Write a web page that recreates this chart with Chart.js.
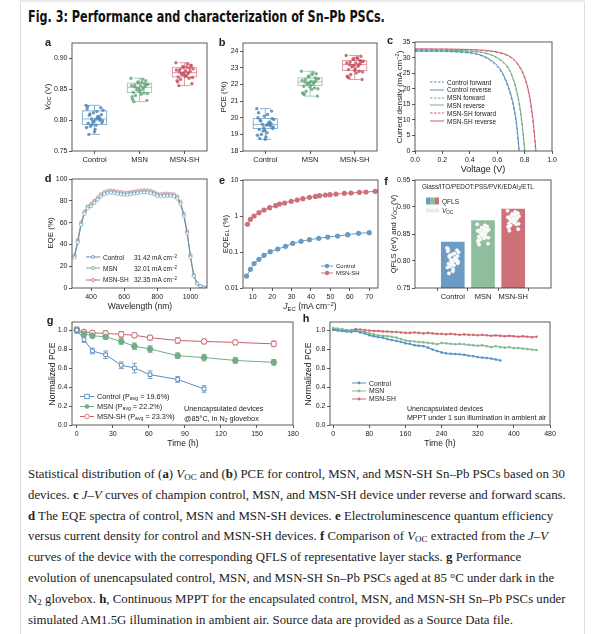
<!DOCTYPE html>
<html>
<head>
<meta charset="utf-8">
<script src="https://cdn.jsdelivr.net/npm/chart.js@4.4.1/dist/chart.umd.min.js"></script>
<style>
  body { margin: 0; background: #fff; }
  #page { position: relative; width: 600px; height: 634px; overflow: hidden; background: #fff;
          font-family: "Liberation Sans", Arial, sans-serif; color: #222; }
  .side { position: absolute; top: 0; bottom: 0; width: 1px; background: #dcdcdc; }
  .pl { position: absolute; }
  .lab { position: absolute; font-weight: bold; font-size: 11px; transform: translate(-50%, -50%); }
  .yt { position: absolute; font-size: 8px; white-space: nowrap; transform: translate(-50%, -50%) rotate(-90deg); }
  .xt { position: absolute; font-size: 8.5px; white-space: nowrap; transform: translate(-50%, -50%); }
  .lg { position: absolute; font-size: 7px; white-space: nowrap; display: flex; align-items: center; transform: translateY(-50%); }
  .note { position: absolute; font-size: 7.5px; white-space: nowrap; transform: translateY(-50%); }
  sub { font-size: 70%; vertical-align: -0.3em; line-height: 0; }
  sup { font-size: 70%; vertical-align: 0.45em; line-height: 0; }
  #title { position: absolute; left: 28px; top: 8px; font-family: "Liberation Sans Narrow", "DejaVu Sans Condensed", "Liberation Sans", sans-serif;
           font-weight: bold; font-size: 15px; white-space: nowrap; transform-origin: left center; color: #111; }
  .cap { position: absolute; left: 28px; font-family: "Liberation Serif", "DejaVu Serif", serif; font-size: 13px;
         white-space: nowrap; transform-origin: left center; color: #222; }
  .cap sub { vertical-align: -0.25em; }
</style>
</head>
<body>
<div id="page">
  <div class="side" style="left:20px"></div>
  <div class="side" style="left:584px"></div>
  <div style="position:absolute;left:20px;right:15px;top:0;height:3px;background:linear-gradient(#e2e2e2,#fff)"></div>
  <div id="title">Fig. 3: Performance and characterization of Sn–Pb PSCs.</div>
</div>
<script>
// ---------- data ----------
const groups = ['Control', 'MSN', 'MSN-SH'];

// a: Voc distribution (V)
const vocControl = [0.824, 0.803, 0.812, 0.795, 0.820, 0.801, 0.790, 0.816, 0.806, 0.798, 0.822, 0.802,
                    0.785, 0.810, 0.799, 0.804, 0.793, 0.818, 0.800, 0.781, 0.808, 0.796, 0.814, 0.802,
                    0.788, 0.805, 0.797, 0.777, 0.809, 0.792];
const vocMSN = [0.868, 0.853, 0.860, 0.845, 0.864, 0.856, 0.840, 0.858, 0.850, 0.862, 0.834, 0.855,
                0.848, 0.857, 0.843, 0.866, 0.852, 0.838, 0.859, 0.846, 0.854, 0.832, 0.861, 0.849,
                0.856, 0.844, 0.851, 0.830, 0.858, 0.842];
const vocSH = [0.893, 0.877, 0.885, 0.870, 0.889, 0.880, 0.866, 0.883, 0.875, 0.887, 0.862, 0.879,
               0.872, 0.882, 0.869, 0.891, 0.876, 0.864, 0.884, 0.873, 0.878, 0.859, 0.886, 0.874,
               0.881, 0.868, 0.877, 0.856, 0.888, 0.871];
const vocLo = [0.777, 0.830, 0.856];
const vocQ1 = [0.793, 0.845, 0.870];
const vocMed = [0.802, 0.853, 0.877];
const vocQ3 = [0.815, 0.860, 0.885];
const vocHi = [0.824, 0.868, 0.893];
const vocTicks = [0.75, 0.80, 0.85, 0.90];

// b: PCE distribution (%)
const pceControl = [20.55, 19.6, 20.1, 19.3, 20.4, 19.55, 19.0, 19.9, 19.7, 19.4, 20.3, 19.65,
                    18.85, 19.8, 19.45, 19.6, 19.2, 20.0, 19.5, 18.7, 19.85, 19.35, 20.2, 19.6,
                    18.95, 19.75, 19.25, 18.75, 19.95, 19.1];
const pceMSN = [22.8, 22.15, 22.45, 21.9, 22.65, 22.2, 21.6, 22.35, 22.05, 22.5, 21.45, 22.2,
                21.95, 22.3, 21.75, 22.7, 22.1, 21.5, 22.4, 21.85, 22.15, 21.3, 22.6, 22.0,
                22.25, 21.8, 22.1, 21.4, 22.35, 21.7];
const pceSH = [23.75, 23.2, 23.5, 22.9, 23.7, 23.3, 22.6, 23.4, 23.1, 23.55, 22.45, 23.25,
               22.95, 23.35, 22.75, 23.6, 23.15, 22.5, 23.45, 22.85, 23.2, 22.3, 23.6, 23.05,
               23.3, 22.8, 23.15, 22.4, 23.4, 22.7];
const pceLo = [18.7, 21.3, 22.3];
const pceQ1 = [19.35, 21.95, 22.85];
const pceMed = [19.6, 22.15, 23.2];
const pceQ3 = [19.95, 22.4, 23.45];
const pceHi = [20.55, 22.8, 23.75];
const pceTicks = [18, 19, 20, 21, 22, 23, 24];

// c: J-V curves (mA cm-2)
const volts = [0, 0.1, 0.2, 0.3, 0.4, 0.45, 0.5, 0.55, 0.6, 0.64, 0.68, 0.7, 0.72, 0.74, 0.76, 0.78, 0.8, 0.82, 0.84, 0.86, 0.88, 0.9];
const jCtrlFwd = [32.0, 31.95, 31.9, 31.75, 31.4, 31.0, 30.3, 29.0, 27.1, 24.5, 20.3, 17.5, 13.8, 8.4, -1, -12, -24, -36, -48, -60, -72, -84];
const jCtrlRev = [32.2, 32.15, 32.1, 31.95, 31.6, 31.2, 30.5, 29.3, 27.5, 25.0, 20.9, 18.2, 14.6, 9.4, 0.5, -10, -22, -34, -46, -58, -70, -82];
const jMsnFwd = [32.4, 32.35, 32.3, 32.2, 32.0, 31.8, 31.5, 30.9, 29.8, 28.5, 26.5, 24.8, 22.4, 19.2, 14.9, 8.7, -0.5, -12, -24, -36, -48, -60];
const jMsnRev = [32.5, 32.45, 32.4, 32.3, 32.1, 31.9, 31.6, 31.0, 30.0, 28.8, 26.9, 25.2, 22.9, 19.8, 15.6, 9.6, 0.8, -10, -22, -34, -46, -58];
const jShFwd = [32.7, 32.68, 32.65, 32.6, 32.5, 32.4, 32.25, 32.0, 31.65, 31.2, 30.5, 30.0, 29.3, 28.3, 27.1, 25.5, 23.4, 20.4, 16.1, 9.7, 0.3, -12];
const jShRev = [32.8, 32.78, 32.75, 32.7, 32.6, 32.5, 32.35, 32.15, 31.8, 31.4, 30.7, 30.2, 29.5, 28.6, 27.4, 25.9, 23.9, 21.0, 16.8, 10.6, 1.5, -10];
const vTicks = [0, 0.2, 0.4, 0.6, 0.8, 1.0];
const jTicks = [0, 5, 10, 15, 20, 25, 30, 35];

// d: EQE spectra (%)
const wl = [300, 320, 340, 360, 380, 400, 420, 440, 460, 480, 500, 520, 540, 560, 580, 600, 620, 640, 660, 680, 700,
            720, 740, 760, 780, 800, 820, 840, 860, 880, 900, 920, 940, 960, 980, 1000, 1020, 1040, 1060, 1080, 1100];
const eqeControl = [28, 42, 58, 68, 73, 75, 78, 81, 84, 86, 87, 87.5, 87, 86.5, 86, 85.5, 85.5, 86, 86.5, 87, 87.5,
                    87.5, 87.5, 87, 86, 84.5, 84, 84.5, 84.5, 84.5, 84, 82, 77, 66, 50, 28, 11, 4, 1.5, 0.5, 0.2];
const eqeMSN = [29, 43, 59, 69, 74, 76, 79, 82, 85, 87, 88, 88.5, 88, 87.5, 87, 86.5, 86.5, 87, 87.5, 88, 88.5,
                88.5, 88.5, 88, 87, 85.5, 85, 85.5, 85.5, 85.5, 85, 83, 78, 67, 51, 29, 11.5, 4.2, 1.6, 0.5, 0.2];
const eqeSH = [30, 44, 60, 70, 75, 77, 80, 83, 86, 88, 89, 89.5, 89, 88.5, 88, 87.5, 87.5, 88, 88.5, 89, 89.5,
               89.5, 89.5, 89, 88, 86.5, 86, 86.5, 86.5, 86.5, 86, 84, 79, 68, 52, 30, 12, 4.5, 1.7, 0.6, 0.2];
const wlTicks = [400, 600, 800, 1000];
const eqeTicks = [0, 20, 40, 60, 80, 100];

// e: EQE_EL vs injected current density
const jelControl = [6.8, 8.8, 10.7, 13.2, 15.8, 19.0, 22.9, 26.9, 30.6, 34.9, 39.2, 44.0, 48.6, 53.7, 58.9, 64.5, 70];
const eelControl = [0.0215, 0.033, 0.048, 0.0625, 0.081, 0.102, 0.121, 0.144, 0.174, 0.198, 0.22, 0.24, 0.26, 0.278, 0.303, 0.33, 0.344];
const jelSH = [7.3, 8.8, 10.7, 13.2, 15.8, 18.7, 21.8, 23.8, 26.4, 29.8, 32.9, 35.8, 39.2, 42.3, 44.4, 47.4, 49.8, 52.9, 57.2, 60.6, 64.9, 68.3, 73.1];
const eelSH = [0.59, 0.81, 1.0, 1.24, 1.47, 1.7, 1.94, 2.15, 2.3, 2.55, 2.78, 3.03, 3.3, 3.5, 3.67, 3.83, 3.9, 4.08, 4.26, 4.35, 4.54, 4.64, 4.84];
const jelTicks = [10, 20, 30, 40, 50, 60, 70];
const eelTicks = [0.01, 0.1, 1, 10];

// f: QFLS (eV) of layer stacks, with device Voc
const qfls = [0.835, 0.875, 0.896];
const qflsTicks = [0.75, 0.80, 0.85, 0.90, 0.95];

// g: thermal stability at 85 C
const tgControl = [0, 6, 13, 24, 37, 48, 61, 84, 106];
const gControl = [1.0, 0.90, 0.78, 0.74, 0.63, 0.60, 0.53, 0.48, 0.38];
const gControlErr = [0.03, 0.03, 0.03, 0.04, 0.035, 0.05, 0.04, 0.03, 0.035];
const tgDoped = [0, 6, 13, 24, 37, 48, 61, 84, 106, 132, 164];
const gMSN = [1.0, 0.96, 0.94, 0.93, 0.88, 0.83, 0.80, 0.73, 0.71, 0.68, 0.66];
const gMSNErr = [0.02, 0.02, 0.025, 0.03, 0.03, 0.035, 0.035, 0.03, 0.035, 0.03, 0.03];
const gSH = [1.0, 0.98, 0.97, 0.965, 0.955, 0.945, 0.92, 0.89, 0.88, 0.87, 0.855];
const gSHErr = [0.03, 0.02, 0.025, 0.03, 0.03, 0.025, 0.025, 0.03, 0.025, 0.025, 0.03];
const tgTicks = [0, 30, 60, 90, 120, 150, 180];
const npceTicks = [0, 0.2, 0.4, 0.6, 0.8, 1.0];

// h: MPPT tracking
const th = [0, 10, 20, 30, 40, 50, 60, 70, 80, 90, 100, 110, 120, 130, 140, 150, 160, 170, 180, 190, 200, 210, 220,
            230, 240, 250, 260, 270, 280, 290, 300, 310, 320, 330, 340, 350, 360, 370, 380, 390, 400, 410, 420,
            430, 440, 450];
const hControl = [1.0, 0.995, 0.99, 0.985, 0.98, 0.99, 0.975, 0.965, 0.945, 0.935, 0.925, 0.92, 0.905, 0.895, 0.885,
                  0.875, 0.86, 0.855, 0.84, 0.835, 0.83, 0.815, 0.795, 0.78, 0.765, 0.755, 0.75, 0.748, 0.745, 0.74,
                  0.73, 0.725, 0.715, 0.71, 0.705, 0.70, 0.69, 0.68];
const hMSN = [1.02, 1.015, 1.01, 1.0, 0.995, 0.99, 0.985, 0.98, 0.965, 0.955, 0.945, 0.94, 0.935, 0.93, 0.92, 0.905,
              0.89, 0.885, 0.88, 0.875, 0.87, 0.865, 0.86, 0.85, 0.865, 0.86, 0.855, 0.85, 0.855, 0.85, 0.845, 0.84,
              0.835, 0.84, 0.83, 0.82, 0.83, 0.82, 0.815, 0.82, 0.81, 0.81, 0.805, 0.80, 0.795, 0.79];
const hSH = [1.01, 1.0, 1.0, 0.995, 1.0, 1.01, 1.005, 1.0, 0.995, 0.99, 0.99, 0.985, 0.985, 0.98, 0.98, 0.975, 0.97,
             0.97, 0.975, 0.97, 0.965, 0.97, 0.965, 0.96, 0.96, 0.955, 0.96, 0.955, 0.95, 0.955, 0.95, 0.95, 0.945,
             0.95, 0.945, 0.94, 0.945, 0.94, 0.935, 0.94, 0.935, 0.93, 0.935, 0.93, 0.925, 0.93];
const thTicks = [0, 80, 160, 240, 320, 400, 480];

// ---------- styling ----------
const blue = '#5b8fbd', green = '#72ad85', red = '#c9626c';
const boxCol = ['#7eaad0', '#9acaa8', '#dc8e96'];
const dotCol = ['rgba(82,135,186,0.85)', 'rgba(104,168,124,0.85)', 'rgba(199,84,97,0.85)'];
const barCol = ['#6c9cc4', '#8fbe9e', '#cf6f78'];
const tickFont = {family: 'Liberation Sans, Arial, sans-serif', size: 7};
const catFont = {family: 'Liberation Sans, Arial, sans-serif', size: 7.5};
const AX = 30, AXH = 16, PT = 5, PR = 10;
const page = document.getElementById('page');

// box frame around every plot area
Chart.register({
  id: 'frame',
  afterDraw(c) {
    const a = c.chartArea, ctx = c.ctx;
    ctx.save();
    ctx.strokeStyle = '#333';
    ctx.lineWidth = 0.8;
    ctx.strokeRect(a.left, a.top, a.right - a.left, a.bottom - a.top);
    ctx.restore();
  }
});

function mkAxis(pos, min, max, ticks, fmt, o) {
  o = o || {};
  return {
    type: o.type || 'linear', position: pos, min: min, max: max,
    grid: {display: true, drawOnChartArea: false, drawTicks: true, tickLength: 3, color: '#333', lineWidth: 0.8},
    border: {display: false},
    ticks: {font: o.font || tickFont, color: '#222', padding: 1.5, maxRotation: 0, autoSkip: false, callback: fmt},
    afterBuildTicks: sc => { sc.ticks = ticks.map(v => ({value: v})); },
    afterFit: sc => {
      if (pos === 'left') sc.width = AX; else sc.height = AXH;
      sc.paddingLeft = sc.paddingRight = sc.paddingTop = sc.paddingBottom = 0;
    }
  };
}
const catAxis = () => mkAxis('bottom', 0.5, 3.5, [1, 2, 3], v => groups[v - 1], {font: catFont});

function opts(x, y) {
  return {
    responsive: false, animation: false, events: [],
    layout: {padding: {left: 0, top: PT, right: PR, bottom: 0}},
    plugins: {legend: {display: false}, tooltip: {enabled: false}},
    scales: {x: x, y: y}
  };
}

function panel(r, cfg) {
  const w = r.r - r.l + AX + PR, h = r.b - r.t + PT + AXH;
  const div = document.createElement('div');
  div.className = 'pl';
  div.style.left = (r.l - AX) + 'px';
  div.style.top = (r.t - PT) + 'px';
  const cv = document.createElement('canvas');
  cv.width = w; cv.height = h;
  cv.style.width = w + 'px'; cv.style.height = h + 'px';
  div.appendChild(cv);
  page.appendChild(div);
  return new Chart(cv, cfg);
}

// spread of the dots around the category centre
const jit = (i, amp) => (((i * 53) % 31) / 30 - 0.5) * 2 * amp;

function dotSets(sets, colors, extra) {
  return sets.map((arr, g) => Object.assign({
    type: 'scatter',
    data: arr.map((v, i) => ({x: g + 1 + jit(i, 0.19), y: v})),
    backgroundColor: colors[g], pointRadius: 1.7, borderWidth: 0
  }, extra || {}));
}

function boxPlugin(lo, q1, med, q3, hi) {
  return {
    id: 'boxes',
    beforeDatasetsDraw(c) {
      const x = c.scales.x, y = c.scales.y, ctx = c.ctx;
      ctx.save();
      ctx.lineWidth = 0.9;
      const seg = (x1, y1, x2, y2) => { ctx.beginPath(); ctx.moveTo(x1, y1); ctx.lineTo(x2, y2); ctx.stroke(); };
      groups.forEach((g, i) => {
        const cx = x.getPixelForValue(i + 1);
        const hw = x.getPixelForValue(i + 1.27) - cx;
        const p = v => y.getPixelForValue(v);
        ctx.strokeStyle = boxCol[i];
        ctx.strokeRect(cx - hw, p(q3[i]), 2 * hw, p(q1[i]) - p(q3[i]));
        seg(cx - hw, p(med[i]), cx + hw, p(med[i]));
        seg(cx, p(q3[i]), cx, p(hi[i]));
        seg(cx, p(q1[i]), cx, p(lo[i]));
        seg(cx - hw * 0.45, p(hi[i]), cx + hw * 0.45, p(hi[i]));
        seg(cx - hw * 0.45, p(lo[i]), cx + hw * 0.45, p(lo[i]));
      });
      ctx.restore();
    }
  };
}

const errPlugin = {
  id: 'errbars',
  beforeDatasetsDraw(c) {
    const x = c.scales.x, y = c.scales.y, ctx = c.ctx;
    ctx.save();
    ctx.lineWidth = 0.8;
    c.data.datasets.forEach(ds => {
      if (!ds.errors) return;
      ctx.strokeStyle = ds.borderColor;
      ds.data.forEach((pt, i) => {
        const px = x.getPixelForValue(pt.x);
        const y1 = y.getPixelForValue(pt.y + ds.errors[i]), y2 = y.getPixelForValue(pt.y - ds.errors[i]);
        ctx.beginPath();
        ctx.moveTo(px, y1); ctx.lineTo(px, y2);
        ctx.moveTo(px - 2.5, y1); ctx.lineTo(px + 2.5, y1);
        ctx.moveTo(px - 2.5, y2); ctx.lineTo(px + 2.5, y2);
        ctx.stroke();
      });
    });
    ctx.restore();
  }
};

const xy = (xs, ys) => ys.map((v, i) => ({x: xs[i], y: v}));
const f2 = v => v.toFixed(2), f1 = v => v.toFixed(1), f0 = v => String(v);

// ---------- a ----------
panel({l: 72, t: 43, r: 207, b: 151}, {
  type: 'scatter',
  data: {datasets: dotSets([vocControl, vocMSN, vocSH], dotCol)},
  options: opts(catAxis(), mkAxis('left', 0.75, 0.925, vocTicks, f2)),
  plugins: [boxPlugin(vocLo, vocQ1, vocMed, vocQ3, vocHi)]
});

// ---------- b ----------
panel({l: 243, t: 43, r: 377, b: 151}, {
  type: 'scatter',
  data: {datasets: dotSets([pceControl, pceMSN, pceSH], dotCol)},
  options: opts(catAxis(), mkAxis('left', 18, 24.5, pceTicks, f0)),
  plugins: [boxPlugin(pceLo, pceQ1, pceMed, pceQ3, pceHi)]
});

// ---------- c ----------
const jvSet = (ys, col, dashed) => ({
  data: xy(volts, ys), borderColor: col, borderWidth: 1, pointRadius: 0, clip: 0,
  borderDash: dashed ? [3, 2] : [], cubicInterpolationMode: 'monotone'
});
panel({l: 415, t: 42, r: 552, b: 151}, {
  type: 'line',
  data: {datasets: [
    jvSet(jCtrlRev, blue, false), jvSet(jCtrlFwd, blue, true),
    jvSet(jMsnRev, green, false), jvSet(jMsnFwd, green, true),
    jvSet(jShRev, red, false), jvSet(jShFwd, red, true)
  ]},
  options: opts(mkAxis('bottom', 0, 1.0, vTicks, f1), mkAxis('left', 0, 35, jTicks, f0))
});

// ---------- d ----------
const eqeSet = (ys, col) => ({
  data: xy(wl, ys), borderColor: col, borderWidth: 0.8, pointRadius: 1.6,
  pointBackgroundColor: '#fff', pointBorderColor: col, pointBorderWidth: 0.6
});
panel({l: 72, t: 179, r: 207, b: 288}, {
  type: 'line',
  data: {datasets: [eqeSet(eqeControl, blue), eqeSet(eqeMSN, green), eqeSet(eqeSH, red)]},
  options: opts(mkAxis('bottom', 285, 1100, wlTicks, f0), mkAxis('left', 0, 100, eqeTicks, f0))
});

// ---------- e ----------
const elSet = (xs, ys, col) => ({
  data: xy(xs, ys), borderColor: col, borderWidth: 1, pointRadius: 2.6,
  pointBackgroundColor: col, pointBorderColor: col, pointBorderWidth: 0
});
panel({l: 243, t: 180, r: 378, b: 288}, {
  type: 'line',
  data: {datasets: [elSet(jelControl, eelControl, '#6a9bc3'), elSet(jelSH, eelSH, '#cd7179')]},
  options: opts(mkAxis('bottom', 5, 74.5, jelTicks, f0), mkAxis('left', 0.01, 10, eelTicks, f0, {type: 'logarithmic'}))
});

// ---------- f ----------
// dots first in the list so they are painted over the bars
panel({l: 415, t: 180, r: 551, b: 288}, {
  type: 'bar',
  data: {datasets: dotSets([vocControl, vocMSN, vocSH], ['#fff', '#fff', '#fff'],
                           {borderWidth: 0.4, borderColor: '#e3e3e3', pointRadius: 1.8}).concat([
    {type: 'bar', data: qfls.map((v, i) => ({x: i + 1, y: v})), backgroundColor: barCol, barThickness: 23, base: 0.75}
  ])},
  options: opts(catAxis(), mkAxis('left', 0.75, 0.95, qflsTicks, f2))
});

// ---------- g ----------
const gSet = (xs, ys, err, col, style, filled) => ({
  data: xy(xs, ys), errors: err, borderColor: col, borderWidth: 1,
  pointStyle: style, pointRadius: style === 'rect' ? 2.6 : 2.8, pointBorderWidth: 1,
  pointBackgroundColor: filled ? col : '#fff', pointBorderColor: col
});
panel({l: 72, t: 322, r: 293, b: 425}, {
  type: 'line',
  data: {datasets: [
    gSet(tgControl, gControl, gControlErr, blue, 'rect', false),
    gSet(tgDoped, gMSN, gMSNErr, green, 'circle', true),
    gSet(tgDoped, gSH, gSHErr, red, 'circle', false)
  ]},
  options: opts(mkAxis('bottom', -4, 180, tgTicks, f0), mkAxis('left', 0, 1.085, npceTicks, f1)),
  plugins: [errPlugin]
});

// ---------- h ----------
const hSet = (ys, col) => ({
  data: xy(th, ys), borderColor: col, borderWidth: 1.3, pointRadius: 1.3,
  pointBackgroundColor: col, pointBorderWidth: 0
});
panel({l: 330, t: 322, r: 550, b: 425}, {
  type: 'line',
  data: {datasets: [hSet(hControl, '#5d96c6'), hSet(hMSN, '#85bb97'), hSet(hSH, '#cf6a74')]},
  options: opts(mkAxis('bottom', -7, 480, thTicks, f0), mkAxis('left', 0, 1.085, npceTicks, f1))
});

// ---------- text: letters, axis titles, legends ----------
function add(cls, x, y, html, style) {
  const d = document.createElement('div');
  d.className = cls;
  d.style.left = x + 'px';
  d.style.top = y + 'px';
  if (style) d.style.cssText += style;
  d.innerHTML = html;
  page.appendChild(d);
  return d;
}
[['a', 48, 42], ['b', 222, 42], ['c', 390, 40], ['d', 48, 178], ['e', 222, 180], ['f', 386, 181],
 ['g', 50, 320], ['h', 306, 318]].forEach(l => add('lab', l[1], l[2], l[0]));

add('yt', 47, 97, '<i>V</i><sub>OC</sub> (V)');
add('yt', 223, 97, 'PCE (%)');
add('yt', 399, 97, 'Current density (mA cm<sup>−2</sup>)');
add('xt', 483, 169, 'Voltage (V)', 'font-size:9px');
add('yt', 50, 233, 'EQE (%)');
add('xt', 140, 306, 'Wavelength (nm)');
add('yt', 225, 234, 'EQE<sub>EL</sub> (%)');
add('xt', 310, 306, '<i>J</i><sub>EC</sub> (mA cm<sup>−2</sup>)');
add('yt', 393, 234, 'QFLS (eV) and <i>V</i><sub>OC</sub> (V)', 'font-size:7.6px');
add('yt', 52, 374, 'Normalized PCE', 'font-size:8.5px');
add('xt', 183, 443, 'Time (h)');
add('yt', 308, 374, 'Normalized PCE', 'font-size:8.5px');
add('xt', 440, 443, 'Time (h)');

function sample(it) {
  const w = it.w || 14, c = it.color;
  let s = '<svg width="' + w + '" height="8" style="flex:none">';
  s += '<line x1="0" y1="4" x2="' + w + '" y2="4" stroke="' + c + '" stroke-width="1"' +
       (it.dash ? ' stroke-dasharray="2.5,1.5"' : '') + '/>';
  const m = w / 2;
  if (it.m === 'sq') s += '<rect x="' + (m - 2.2) + '" y="1.8" width="4.4" height="4.4" fill="#fff" stroke="' + c + '" stroke-width="0.9"/>';
  if (it.m === 'co') s += '<circle cx="' + m + '" cy="4" r="' + (it.r || 2.3) + '" fill="#fff" stroke="' + c + '" stroke-width="0.8"/>';
  if (it.m === 'cf') s += '<circle cx="' + m + '" cy="4" r="' + (it.r || 2.3) + '" fill="' + c + '"/>';
  return s + '</svg>';
}
function legend(x, y, rowH, items, fs, gap) {
  items.forEach((it, i) => {
    add('lg', x, y + i * rowH, sample(it) + '<span style="margin-left:' + (gap || 3) + 'px">' + it.text + '</span>',
        'font-size:' + (fs || 7) + 'px');
  });
}

legend(430, 82, 7.8, [
  {color: blue, dash: true, text: 'Control forward'},
  {color: blue, text: 'Control reverse'},
  {color: green, dash: true, text: 'MSN forward'},
  {color: green, text: 'MSN reverse'},
  {color: red, dash: true, text: 'MSN-SH forward'},
  {color: red, text: 'MSN-SH reverse'}
], 6.5);

const col = (t, v) => '<span style="display:inline-block;width:31px">' + t + '</span>' + v + ' mA cm<sup>−2</sup>';
legend(86, 257, 11.3, [
  {color: blue, m: 'co', r: 1.5, text: col('Control', '31.42')},
  {color: green, m: 'co', r: 1.5, text: col('MSN', '32.01')},
  {color: red, m: 'co', r: 1.5, text: col('MSN-SH', '32.35')}
], 6.5);

legend(321, 266, 6.8, [
  {color: '#6a9bc3', m: 'cf', r: 2.2, w: 12, text: 'Control'},
  {color: '#cd7179', m: 'cf', r: 2.2, w: 12, text: 'MSN-SH'}
], 6);

add('note', 422, 186, 'Glass/ITO/PEDOT:PSS/PVK/EDAI<sub>2</sub>/ETL', 'font-size:6.3px');
add('lg', 426, 201, '<span style="display:inline-block;width:13px;height:7px;background:linear-gradient(90deg,' +
    barCol[0] + ' 0 33%,' + barCol[1] + ' 33% 66%,' + barCol[2] + ' 66%)"></span><span style="margin-left:3px">QFLS</span>',
    'font-size:6.5px');
add('lg', 426, 210, '<svg width="13" height="6">' +
    [2, 6.5, 11].map(cx => '<circle cx="' + cx + '" cy="3" r="1.5" fill="#fff" stroke="#bbb" stroke-width="0.6"/>').join('') +
    '</svg><span style="margin-left:3px"><i>V</i><sub>OC</sub></span>', 'font-size:6.5px');

legend(80, 396, 10, [
  {color: blue, m: 'sq', text: 'Control (P<sub>avg</sub> = 19.6%)'},
  {color: green, m: 'cf', text: 'MSN (P<sub>avg</sub> = 22.2%)'},
  {color: red, m: 'co', text: 'MSN-SH (P<sub>avg</sub> = 23.3%)'}
], 7.3);
add('note', 184, 408, 'Unencapsulated devices', 'font-size:7.3px');
add('note', 184, 418, '@85°C, in N<sub>2</sub> glovebox', 'font-size:7.3px');

legend(352, 383, 7.8, [
  {color: '#5d96c6', m: 'cf', r: 1.4, text: 'Control'},
  {color: '#85bb97', m: 'cf', r: 1.4, text: 'MSN'},
  {color: '#cf6a74', m: 'cf', r: 1.4, text: 'MSN-SH'}
], 6.8);
add('note', 407, 408, 'Unencapsulated devices', 'font-size:7px');
add('note', 407, 417, 'MPPT under 1 sun illumination in ambient air', 'font-size:7px');

// ---------- caption ----------
const V = '<i>V</i><sub>OC</sub>', JV = '<i>J</i>–<i>V</i>';
const capLines = [
  'Statistical distribution of (<b>a</b>) ' + V + ' and (<b>b</b>) PCE for control, MSN, and MSN-SH Sn–Pb PSCs based on 30',
  'devices. <b>c</b> ' + JV + ' curves of champion control, MSN, and MSN-SH device under reverse and forward scans.',
  '<b>d</b> The EQE spectra of control, MSN and MSN-SH devices. <b>e</b> Electroluminescence quantum efficiency',
  'versus current density for control and MSN-SH devices. <b>f</b> Comparison of ' + V + ' extracted from the ' + JV,
  'curves of the device with the corresponding QFLS of representative layer stacks. <b>g</b> Performance',
  'evolution of unencapsulated control, MSN, and MSN-SH Sn–Pb PSCs aged at 85 °C under dark in the',
  'N<sub>2</sub> glovebox. <b>h</b>, Continuous MPPT for the encapsulated control, MSN, and MSN-SH Sn–Pb PSCs under',
  'simulated AM1.5G illumination in ambient air. Source data are provided as a Source Data file.'
];
const capEls = capLines.map((t, i) => add('cap', 28, 474 + i * 20.8, t, 'transform:translateY(-50%)'));
const sx = 537 / capEls[0].offsetWidth;
capEls.forEach(el => { el.style.transform = 'translateY(-50%) scaleX(' + sx + ')'; });
const title = document.getElementById('title');
title.style.transform = 'scaleX(' + (357 / title.offsetWidth) + ')';
</script>
</body>
</html>
